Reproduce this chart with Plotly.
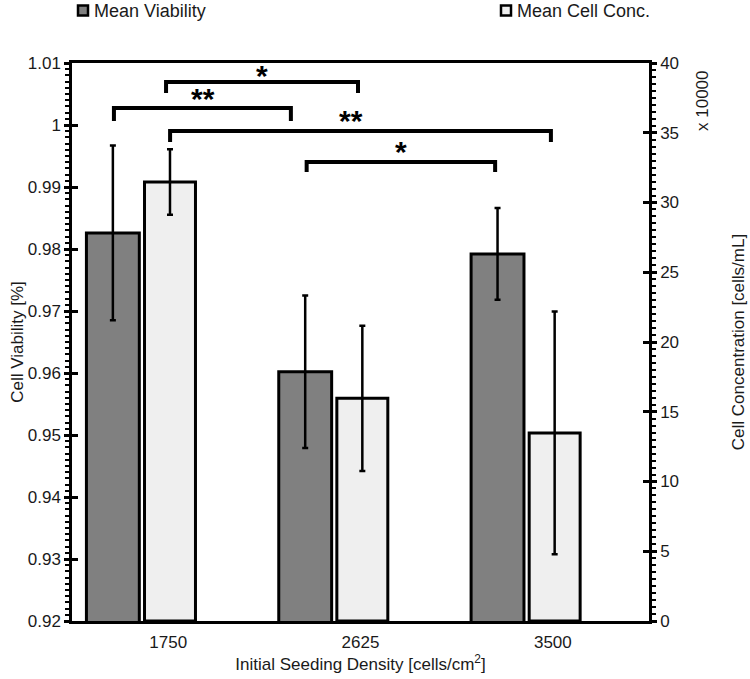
import plotly.graph_objects as go

# ---------------- data ----------------
categories = ["1750", "2625", "3500"]
viability_mean = [0.9826, 0.9602, 0.9792]
viability_err = [0.0141, 0.0123, 0.0074]
conc_mean = [31.47, 15.96, 13.48]          # x 10000 cells/mL
conc_err = [2.35, 5.2, 8.7]

series_names = ["Mean Viability", "Mean Cell Conc."]
series_colors = ["#808080", "#efefef"]

left_tickvals = [0.92, 0.93, 0.94, 0.95, 0.96, 0.97, 0.98, 0.99, 1.0, 1.01]
left_ticktext = ["0.92", "0.93", "0.94", "0.95", "0.96", "0.97", "0.98", "0.99", "1", "1.01"]
right_tickvals = [0, 5, 10, 15, 20, 25, 30, 35, 40]

# significance brackets: (x_left, x_right, y_bar, y_drop, label, label_x, label_y)
brackets = [
    (-0.011, 0.987, 1.00694, 1.00516, "*", 0.49, 1.0080),
    (-0.282, 0.638, 1.00274, 1.00065, "**", 0.18, 1.0042),
    (0.010, 1.990, 0.99903, 0.99726, "**", 0.95, 1.0008),
    (0.720, 1.700, 0.99403, 0.99242, "*", 1.21, 0.9958),
]

# ---------------- figure ----------------
xpos = list(range(len(categories)))
FONT = "Liberation Sans, Arial, sans-serif"
W, H = 750, 679
ML, MR, MT, MB = 72, 101, 63, 58
PW, PH = W - ML - MR, H - MT - MB


def px_x(px):
    return (px - ML) / PW


def px_y(py):
    return (H - MB - py) / PH


fig = go.Figure()
fig.add_trace(go.Bar(
    x=xpos, y=viability_mean, name=series_names[0],
    width=0.275, offset=-0.425,
    marker=dict(color=series_colors[0], line=dict(color="black", width=3)),
    error_y=dict(type="data", array=viability_err, visible=True,
                 color="black", thickness=2.5, width=3),
    yaxis="y", showlegend=False,
))
fig.add_trace(go.Bar(
    x=xpos, y=conc_mean, name=series_names[1],
    width=0.265, offset=-0.123,
    marker=dict(color=series_colors[1], line=dict(color="black", width=3)),
    error_y=dict(type="data", array=conc_err, visible=True,
                 color="black", thickness=2.5, width=3),
    yaxis="y2", showlegend=False,
))
# empty helper traces so the inner tick overlays get drawn
fig.add_trace(go.Scatter(x=[], y=[], yaxis="y3", showlegend=False, hoverinfo="skip"))
fig.add_trace(go.Scatter(x=[], y=[], yaxis="y4", showlegend=False, hoverinfo="skip"))

for (x0, x1, yh, yd, lab, lx, ly) in brackets:
    fig.add_shape(type="path", xref="x", yref="y",
                  path=f"M {x0},{yd} L {x0},{yh} L {x1},{yh} L {x1},{yd}",
                  line=dict(color="black", width=4))
    fig.add_annotation(x=lx, y=ly, xref="x", yref="y", text=f"<b>{lab}</b>",
                       showarrow=False, font=dict(size=30, color="black", family=FONT))

# legend (drawn at the top, two widely separated entries)
legend_left_px = [78, 501]
for name, color, lx in zip(series_names, series_colors, legend_left_px):
    fig.add_shape(type="rect", xref="paper", yref="paper",
                  x0=px_x(lx), x1=px_x(lx + 10), y0=px_y(15.5), y1=px_y(5.5),
                  fillcolor=color, line=dict(color="black", width=2.5))
    fig.add_annotation(x=px_x(lx + 14), y=px_y(11), xref="paper", yref="paper",
                       xanchor="left", yanchor="middle", text=name, showarrow=False,
                       font=dict(size=18, color="#1a1a1a", family=FONT))

fig.add_annotation(x=px_x(703), y=px_y(101), xref="paper", yref="paper",
                   xanchor="center", yanchor="middle",
                   text="x 10000", textangle=-90, showarrow=False,
                   font=dict(size=17, color="#1a1a1a", family=FONT))

fig.update_layout(
    width=W, height=H,
    margin=dict(l=ML, r=MR, t=MT, b=MB, autoexpand=False),
    paper_bgcolor="white", plot_bgcolor="white",
    barmode="overlay",
    font=dict(family=FONT, size=17, color="#1a1a1a"),
    showlegend=False,
    xaxis=dict(range=[-0.5, 2.5], tickvals=xpos, ticktext=categories,
               showline=True, linecolor="black", linewidth=2.5, mirror=True,
               ticks="", showgrid=False, zeroline=False,
               tickfont=dict(size=17), ticklabelstandoff=4,
               title=dict(text="Initial Seeding Density [cells/cm<sup>2</sup>]",
                          standoff=6, font=dict(size=17))),
    yaxis=dict(range=[0.92, 1.01], tickvals=left_tickvals, ticktext=left_ticktext,
               showline=True, linecolor="black", linewidth=2.5,
               ticks="outside", ticklen=5, tickwidth=2.5, tickcolor="black",
               minor=dict(dtick=0.001, tick0=0.92, ticks="outside", ticklen=4,
                          tickwidth=2, tickcolor="black"),
               showgrid=False, zeroline=False, tickfont=dict(size=17),
               title=dict(text="Cell Viability [%]", standoff=0, font=dict(size=17))),
    yaxis2=dict(range=[0, 40], tickvals=right_tickvals, overlaying="y", side="right",
                showline=True, linecolor="black", linewidth=2.5,
                ticks="outside", ticklen=5, tickwidth=2.5, tickcolor="black",
                minor=dict(dtick=0.5, ticks="outside", ticklen=4,
                           tickwidth=2, tickcolor="black"),
                showgrid=False, zeroline=False, tickfont=dict(size=17),
                title=dict(text="Cell Concentration [cells/mL]", standoff=55,
                           font=dict(size=17))),
    yaxis3=dict(range=[0.92, 1.01], tickvals=left_tickvals, overlaying="y", side="left",
                showline=False, ticks="inside", ticklen=6, tickwidth=2.5,
                tickcolor="black", showticklabels=False, showgrid=False,
                zeroline=False),
    yaxis4=dict(range=[0, 40], tickvals=right_tickvals, overlaying="y", side="right",
                showline=False, ticks="inside", ticklen=6, tickwidth=2.5,
                tickcolor="black", showticklabels=False, showgrid=False,
                zeroline=False),
)

fig.write_html("out.html")
